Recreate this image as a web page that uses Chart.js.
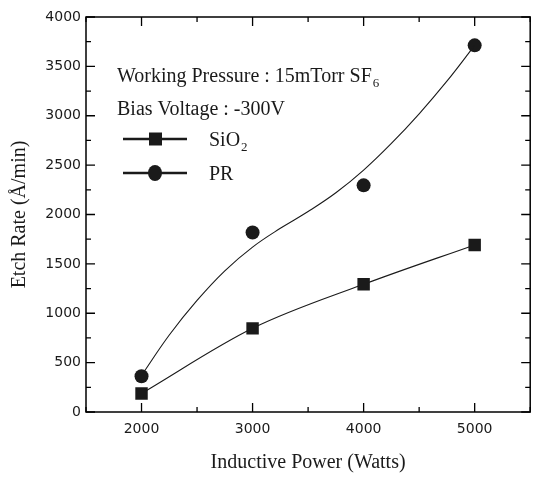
<!DOCTYPE html>
<html>
<head>
<meta charset="utf-8">
<script src="https://cdn.jsdelivr.net/npm/chart.js@4.4.0/dist/chart.umd.min.js"></script>
<style>
  html, body { margin: 0; padding: 0; background: #fff; }
  #wrap { width: 539px; height: 477px; position: relative; }
</style>
</head>
<body>
<div id="wrap"><canvas id="c" width="539" height="477"></canvas></div>
<script>
// ---- data ----
const powers = [2000, 3000, 4000, 5000];
const sio2Rate = [187, 847, 1293, 1692];
const prRate = [362, 1817, 2295, 3713];
// smooth fitted PR curve
const prFitX = [2000, 2250, 2500, 2750, 3000, 3250, 3500, 3750, 4000, 4250, 4500, 4750, 5000];
const prFitY = [370, 780, 1130, 1430, 1670, 1860, 2030, 2220, 2450, 2720, 3020, 3350, 3713];
const xTicks = [2000, 3000, 4000, 5000];
const yTicks = [0, 500, 1000, 1500, 2000, 2500, 3000, 3500, 4000];
const xMinorTicks = [1500, 2500, 3500, 4500, 5500];
const yMinorTicks = [250, 750, 1250, 1750, 2250, 2750, 3250, 3750];
const seriesNames = ['SiO', 'PR'];
const noteLines = ['Working Pressure : 15mTorr SF', 'Bias Voltage : -300V'];

const serif = '"Liberation Serif", "Times New Roman", serif';
const sans = '"DejaVu Sans", Arial, sans-serif';

const framePlugin = {
  id: 'frame',
  afterDatasetsDraw(chart) {
    const {ctx, chartArea: a, scales: {x, y}} = chart;
    ctx.save();
    ctx.strokeStyle = '#000';
    ctx.lineWidth = 1.5;
    ctx.strokeRect(a.left, a.top, a.right - a.left, a.bottom - a.top);
    ctx.lineWidth = 1.3;
    const tick = (v, len, horiz) => {
      ctx.beginPath();
      if (horiz) {
        const px = x.getPixelForValue(v);
        ctx.moveTo(px, a.bottom); ctx.lineTo(px, a.bottom - len);
        ctx.moveTo(px, a.top); ctx.lineTo(px, a.top + len);
      } else {
        const py = y.getPixelForValue(v);
        ctx.moveTo(a.left, py); ctx.lineTo(a.left + len, py);
        ctx.moveTo(a.right, py); ctx.lineTo(a.right - len, py);
      }
      ctx.stroke();
    };
    xTicks.forEach(v => tick(v, 9, true));
    xMinorTicks.forEach(v => tick(v, 5, true));
    yTicks.forEach(v => tick(v, 9, false));
    yMinorTicks.forEach(v => tick(v, 5, false));

    // annotation text
    ctx.fillStyle = '#1a1a1a';
    ctx.textBaseline = 'alphabetic';
    ctx.textAlign = 'left';
    ctx.font = '20px ' + serif;
    const tx = 117;
    ctx.fillText(noteLines[0], tx, 82);
    let w = ctx.measureText(noteLines[0]).width;
    ctx.font = '13px ' + serif;
    ctx.fillText('6', tx + w + 1, 87);
    ctx.font = '20px ' + serif;
    ctx.fillText(noteLines[1], tx, 115);

    // legend
    const ly = [139, 173];
    ctx.strokeStyle = '#1a1a1a';
    ctx.lineWidth = 2.6;
    ly.forEach((yy, i) => {
      ctx.beginPath(); ctx.moveTo(123, yy); ctx.lineTo(187, yy); ctx.stroke();
      ctx.beginPath();
      if (i === 0) {
        ctx.rect(149, yy - 6.5, 13, 13);
      } else {
        ctx.ellipse(155, yy, 7, 8, 0, 0, Math.PI * 2);
      }
      ctx.fill();
      ctx.font = '20px ' + serif;
      ctx.fillText(seriesNames[i], 209, yy + 7);
      if (i === 0) {
        const sw = ctx.measureText(seriesNames[0]).width;
        ctx.font = '13px ' + serif;
        ctx.fillText('2', 209 + sw + 1, yy + 12);
      }
    });
    ctx.restore();
  }
};

new Chart(document.getElementById('c'), {
  type: 'line',
  data: {
    datasets: [
      {
        label: 'PR fit',
        data: prFitX.map((v, i) => ({x: v, y: prFitY[i]})),
        borderColor: '#1a1a1a', borderWidth: 1.1,
        pointRadius: 0, tension: 0.4, fill: false
      },
      {
        label: 'SiO2',
        data: powers.map((v, i) => ({x: v, y: sio2Rate[i]})),
        borderColor: '#1a1a1a', borderWidth: 1.1,
        backgroundColor: '#1a1a1a', pointBorderColor: '#1a1a1a',
        pointStyle: 'rect', pointRadius: 8.8, pointBorderWidth: 0,
        cubicInterpolationMode: 'monotone', fill: false
      },
      {
        label: 'PR',
        data: powers.map((v, i) => ({x: v, y: prRate[i]})),
        showLine: false,
        backgroundColor: '#1a1a1a', pointBorderColor: '#1a1a1a',
        pointStyle: 'circle', pointRadius: 7, pointBorderWidth: 0
      }
    ]
  },
  options: {
    responsive: false,
    animation: false,
    devicePixelRatio: 1,
    layout: { padding: { top: 17, right: 1, left: 0, bottom: 0 } },
    plugins: { legend: { display: false }, tooltip: { enabled: false } },
    scales: {
      x: {
        type: 'linear', min: 1500, max: 5500,
        afterBuildTicks: s => { s.ticks = xTicks.map(v => ({value: v})); },
        afterFit: s => { s.height = 65; },
        grid: { display: false, drawTicks: false },
        border: { display: false },
        ticks: { font: { family: sans, size: 14 }, color: '#1a1a1a', padding: 9, maxRotation: 0, callback: v => String(v) },
        title: { display: true, text: 'Inductive Power (Watts)', font: { family: serif, size: 20 }, color: '#1a1a1a', padding: { top: 0, bottom: 2 } }
      },
      y: {
        type: 'linear', min: 0, max: 4000,
        afterBuildTicks: s => { s.ticks = yTicks.map(v => ({value: v})); },
        afterFit: s => { s.width = 86; },
        grid: { display: false, drawTicks: false },
        border: { display: false },
        ticks: { font: { family: sans, size: 14 }, color: '#1a1a1a', padding: 5, callback: v => String(v) },
        title: { display: true, text: 'Etch Rate (Å/min)', font: { family: serif, size: 20 }, color: '#1a1a1a', padding: { top: 8, bottom: 0 } }
      }
    }
  },
  plugins: [framePlugin]
});
</script>
</body>
</html>
